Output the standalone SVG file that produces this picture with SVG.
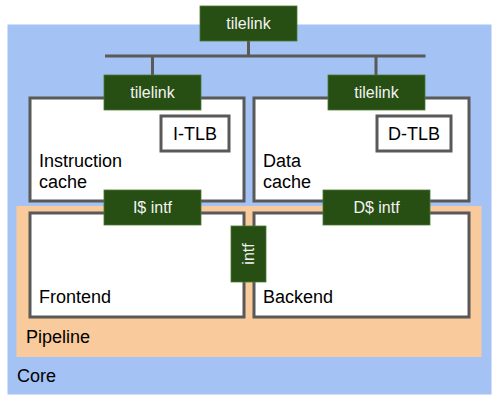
<svg xmlns="http://www.w3.org/2000/svg" width="499" height="402" viewBox="0 0 499 402">
<style>
text{font-family:"Liberation Sans",Arial,sans-serif;}
.lbl{font-size:18px;fill:#000;}
.g{fill:#274e13;stroke:#4a7a32;stroke-width:0.8;}
.gt{font-size:16px;fill:#f3f3f3;text-anchor:middle;}
.box{fill:#fff;stroke:#595959;stroke-width:3;}
.conn{stroke:#595959;stroke-width:3;fill:none;}
</style>
<g id="core">
<rect x="7.5" y="24.5" width="484" height="370" fill="#a4c2f4"/>
<text class="lbl" x="17" y="382">Core</text>
</g>
<g id="connectors">
<path class="conn" d="M248.5 41V56M105 56H425.5M152.5 56V75M376 56V75"/>
</g>
<g id="pipeline">
<rect x="16.5" y="206" width="465" height="151" fill="#f9cb9c"/>
<text class="lbl" x="26" y="343">Pipeline</text>
</g>
<g id="icache">
<rect class="box" x="30" y="98" width="214" height="103"/>
<text class="lbl" x="39" y="167">Instruction</text>
<text class="lbl" x="39" y="188">cache</text>
</g>
<g id="dcache">
<rect class="box" x="254" y="98" width="215" height="103"/>
<text class="lbl" x="263" y="167">Data</text>
<text class="lbl" x="263" y="188">cache</text>
</g>
<g id="itlb">
<rect class="box" x="161" y="116" width="68" height="35"/>
<text class="lbl" x="195" y="140" text-anchor="middle">I-TLB</text>
</g>
<g id="dtlb">
<rect class="box" x="377" y="116" width="74" height="35"/>
<text class="lbl" x="414" y="140" text-anchor="middle">D-TLB</text>
</g>
<g id="frontend">
<rect class="box" x="30" y="213" width="214" height="104"/>
<text class="lbl" x="39" y="303">Frontend</text>
</g>
<g id="backend">
<rect class="box" x="254" y="213" width="215" height="104"/>
<text class="lbl" x="263" y="303">Backend</text>
</g>
<g id="tilelink-top">
<rect class="g" x="200" y="6" width="97" height="35"/>
<text class="gt" x="248.5" y="29">tilelink</text>
</g>
<g id="tilelink-i">
<rect class="g" x="104" y="75" width="97" height="35"/>
<text class="gt" x="152.5" y="98">tilelink</text>
</g>
<g id="tilelink-d">
<rect class="g" x="328" y="75" width="97" height="35"/>
<text class="gt" x="376.5" y="98">tilelink</text>
</g>
<g id="i-intf">
<rect class="g" x="104" y="190" width="97" height="35"/>
<text class="gt" x="152.5" y="213">I$ intf</text>
</g>
<g id="d-intf">
<rect class="g" x="323" y="190" width="107" height="35"/>
<text class="gt" x="376.5" y="213">D$ intf</text>
</g>
<g id="intf">
<rect class="g" x="231" y="226" width="35" height="56"/>
<text class="gt" transform="translate(254 254) rotate(-90)" x="0" y="0">intf</text>
</g>
</svg>
